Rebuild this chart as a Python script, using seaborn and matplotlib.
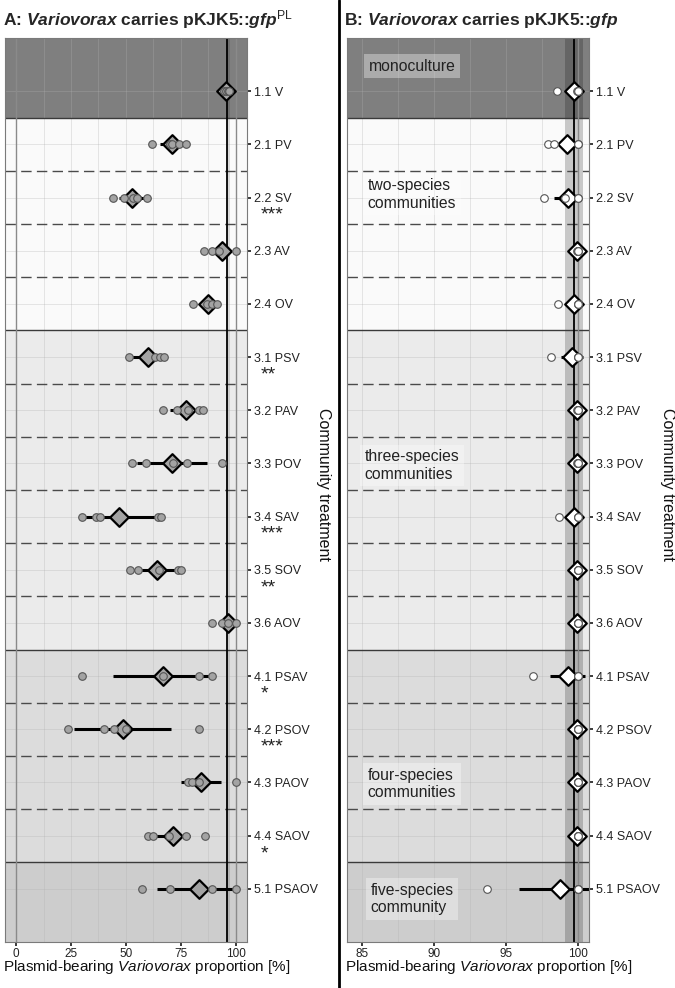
import numpy as np
import pandas as pd
import matplotlib.pyplot as plt
import matplotlib.transforms as mtransforms
import seaborn as sns

# treatments (top to bottom) and significance marks for panel A
treatments = ["1.1 V", "2.1 PV", "2.2 SV", "2.3 AV", "2.4 OV", "3.1 PSV", "3.2 PAV",
              "3.3 POV", "3.4 SAV", "3.5 SOV", "3.6 AOV", "4.1 PSAV", "4.2 PSOV",
              "4.3 PAOV", "4.4 SAOV", "5.1 PSAOV"]
groups = [1, 2, 2, 2, 2, 3, 3, 3, 3, 3, 3, 4, 4, 4, 4, 5]
stars = ["", "", "***", "", "", "**", "", "", "***", "**", "", "*", "***", "", "*", ""]

group_fill = ["#7f7f7f", "#fafafa", "#ebebeb", "#dcdcdc", "#cdcdcd"]
group_names = ["monoculture", "two-species\ncommunities", "three-species\ncommunities",
               "four-species\ncommunities", "five-species\ncommunity"]
group_name_rows = [0.53, 2.94, 8.04, 14.03, 16.19]

# panel A: Variovorax carries pKJK5::gfp^PL
pl_reps = [[94.5, 95.5, 96.5, 97.0],
           [61.7, 70.0, 71.0, 74.0, 77.3],
           [44.2, 49.0, 53.0, 55.0, 59.4],
           [85.5, 89.2, 92.3, 100.0],
           [80.3, 87.0, 89.2, 91.2],
           [51.4, 63.2, 65.5, 67.3],
           [66.7, 73.0, 78.0, 83.3, 84.8],
           [52.6, 59.1, 71.5, 77.9, 93.5],
           [29.8, 36.2, 38.2, 64.7, 65.8],
           [51.8, 55.3, 65.2, 73.8, 75.0],
           [89.2, 93.5, 96.5, 100.0],
           [29.8, 66.7, 83.3, 88.9],
           [23.5, 40.0, 44.5, 49.8, 83.3],
           [78.3, 79.8, 83.3, 100.0],
           [60.2, 62.4, 69.7, 77.3, 85.9],
           [57.1, 70.0, 88.9, 100.0]]
pl_mean = [95.5, 70.8, 52.6, 93.5, 87.4, 60.2, 77.3, 70.8, 46.8, 64.2, 96.5, 67.0, 48.5, 84.1, 71.2, 83.3]
pl_lo = [94.5, 65.5, 47.0, 90.0, 84.4, 51.4, 70.2, 54.9, 31.4, 56.3, 93.0, 44.2, 26.4, 75.0, 63.0, 64.2]
pl_hi = [97.0, 74.5, 58.0, 97.0, 90.5, 64.0, 84.0, 87.0, 63.9, 73.0, 98.0, 88.2, 70.3, 93.0, 79.0, 101.0]
pl_ref = 95.8
pl_band = (95.7, 97.3)

# panel B: Variovorax carries pKJK5::gfp
gfp_reps = [[98.5, 99.9, 100.0, 100.0],
            [97.9, 98.3, 100.0, 100.0],
            [97.6, 99.1, 100.0, 100.0],
            [99.95, 100.0, 100.0, 100.0],
            [98.6, 100.0, 100.0, 100.0],
            [98.1, 100.0, 100.0, 100.0],
            [99.9, 100.0, 100.0, 100.0],
            [99.9, 100.0, 100.0, 100.0],
            [98.7, 100.0, 100.0, 100.0],
            [100.0, 100.0, 100.0, 100.0],
            [100.0, 100.0, 100.0, 100.0],
            [96.9, 100.0, 100.0, 100.0],
            [100.0, 100.0, 100.0, 100.0],
            [100.0, 100.0, 100.0, 100.0],
            [100.0, 100.0, 100.0, 100.0],
            [93.7, 100.0, 100.0, 100.0]]
gfp_mean = [99.7, 99.25, 99.3, 99.95, 99.7, 99.58, 99.95, 99.95, 99.72, 99.95, 99.95, 99.3, 99.95, 99.95, 99.95, 98.73]
gfp_lo = [99.4, 99.0, 98.3, 99.9, 99.4, 98.8, 99.9, 99.9, 99.5, 99.9, 99.9, 98.04, 99.9, 99.9, 99.9, 95.9]
gfp_hi = [100.0, 99.5, 100.0, 100.0, 100.0, 100.3, 100.0, 100.0, 99.9, 100.0, 100.0, 100.5, 100.0, 100.0, 100.0, 101.6]
gfp_ref = 99.72
gfp_band = (99.08, 100.35)

sns.set_theme(style="white")
plt.rcParams['font.family'] = ['Liberation Sans', 'DejaVu Sans']
plt.rcParams['mathtext.fontset'] = 'custom'
plt.rcParams['mathtext.rm'] = 'Liberation Sans'
plt.rcParams['mathtext.it'] = 'Liberation Sans:italic'
plt.rcParams['mathtext.bf'] = 'Liberation Sans:italic:bold'
plt.rcParams['lines.scale_dashes'] = False

fig = plt.figure(figsize=(6.75, 9.88), dpi=100)
axA = fig.add_axes([5/675, 1-942/988, 242/675, 904/988])
axB = fig.add_axes([347/675, 1-942/988, 242/675, 904/988])

rows = np.arange(1, len(treatments) + 1)


def draw_panel(ax, reps, mean, lo, hi, xlim, ticks, grid, vlines, ref, band, band_alpha, fill):
    # group backgrounds
    for g, col in zip(range(1, 6), group_fill):
        idx = [i for i, gg in enumerate(groups) if gg == g]
        top = 0 if idx[0] == 0 else idx[0] + 0.5
        bot = 17 if idx[-1] == len(groups) - 1 else idx[-1] + 1.5
        ax.axhspan(top, bot, color=col, lw=0, zorder=0)
    ax.axvspan(band[0], band[1], color="black", alpha=band_alpha, lw=0, zorder=0.5)
    for x in grid:
        ax.axvline(x, color="#b0b0b0", alpha=0.35, lw=0.6, zorder=0.6)
    for r in rows:
        ax.axhline(r, color="#b0b0b0", alpha=0.35, lw=0.6, zorder=0.6)
    for i in range(len(groups) - 1):
        if groups[i] != groups[i + 1]:
            ax.axhline(i + 1.5, color="#3a3a3a", lw=1.0, zorder=1)
        else:
            ax.axhline(i + 1.5, color="#4a4a4a", lw=1.0, ls=(0, (7.5, 3.8)), zorder=1)
    for x in vlines:
        ax.axvline(x, color="#8a8a8a", lw=1.0, zorder=1)
    ax.axvline(ref, color="black", lw=1.3, zorder=1.2)

    ax.hlines(rows, lo, hi, color="black", lw=2.2, zorder=2)

    dm = pd.DataFrame({"value": mean, "row": rows})
    sns.scatterplot(data=dm, x="value", y="row", ax=ax, marker="D", s=90,
                    color=fill, edgecolor="black", linewidth=1.6, zorder=3)
    long = pd.DataFrame([(v, r) for r, vals in zip(rows, reps) for v in vals],
                        columns=["value", "row"])
    sns.scatterplot(data=long, x="value", y="row", ax=ax, marker="o", s=30,
                    color=fill, edgecolor="#555555", linewidth=0.8, zorder=4)

    ax.set_xlim(*xlim)
    ax.set_ylim(17, 0)
    ax.set_xticks(ticks)
    ax.set_xticklabels([str(t) for t in ticks])
    ax.yaxis.tick_right()
    ax.set_yticks(rows)
    ax.set_yticklabels(treatments)
    ax.tick_params(axis="y", length=3, pad=2, labelsize=9, colors="#222222", left=False, right=True)
    ax.tick_params(axis="x", length=3, pad=1, labelsize=8.5, colors="#222222", bottom=True)
    ax.set_xlabel("")
    ax.set_ylabel("")
    for sp in ax.spines.values():
        sp.set_color("#7a7a7a")
        sp.set_linewidth(0.8)
    ax.grid(False)


draw_panel(axA, pl_reps, pl_mean, pl_lo, pl_hi, (-5, 105), [0, 25, 50, 75, 100],
           np.arange(0, 101, 12.5), [0, 100], pl_ref, pl_band, 0.12, "#a3a3a3")
draw_panel(axB, gfp_reps, gfp_mean, gfp_lo, gfp_hi, (83.98, 100.75), [85, 90, 95, 100],
           np.arange(85, 100.1, 2.5), [100], gfp_ref, gfp_band, 0.2, "white")

# significance marks below the tick labels of panel A
trans = mtransforms.blended_transform_factory(axA.transAxes, axA.transData)
for r, s in zip(rows, stars):
    if s:
        axA.text(1.058, r + 0.42, s, transform=trans, ha="left", va="baseline",
                 fontsize=14, color="#222222")

# community labels in panel B
transB = mtransforms.blended_transform_factory(axB.transAxes, axB.transData)
for name, r in zip(group_names, group_name_rows):
    axB.text(0.269, r, name, transform=transB, ha="center", va="center", multialignment="left",
             fontsize=11.3, color="#222222", linespacing=1.2,
             bbox=dict(boxstyle="square,pad=0.3", facecolor="white", alpha=0.35, lw=0))

# titles and axis labels
fig.text(3/675, 1-20/988, r"A: $\mathbf{Variovorax}$ carries pKJK5::$\mathbf{gfp}^{\mathrm{PL}}$",
         fontsize=12.5, fontweight="bold", ha="left", va="center")
fig.text(344/675, 1-20/988, r"B: $\mathbf{Variovorax}$ carries pKJK5::$\mathbf{gfp}$",
         fontsize=12.5, fontweight="bold", ha="left", va="center")
for x0 in (3/675, 345/675):
    fig.text(x0, 1-967/988, r"Plasmid-bearing $\mathit{Variovorax}$ proportion [%]",
             fontsize=11, ha="left", va="center", color="#111111")
for xc in (323/675, 667/675):
    fig.text(xc, 1-484/988, "Community treatment", rotation=270, fontsize=11.5,
             ha="center", va="center", color="#111111")

fig.add_artist(plt.Line2D([339/675, 339/675], [0, 1], color="black", lw=2, transform=fig.transFigure))

fig.savefig("out.png", dpi=100)
